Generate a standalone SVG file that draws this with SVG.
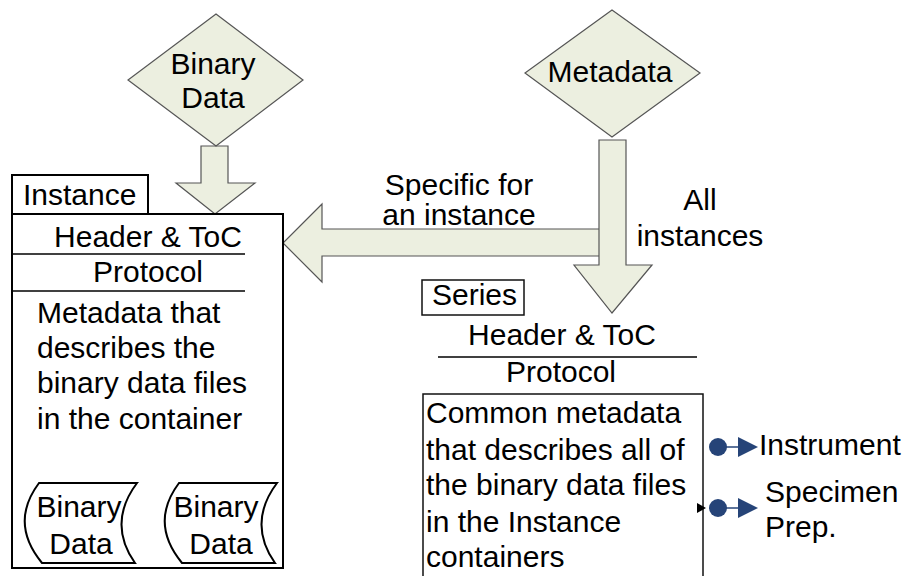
<svg xmlns="http://www.w3.org/2000/svg" width="903" height="576" viewBox="0 0 903 576">
  <style>
    text { font-family: "Liberation Sans", Arial, sans-serif; font-size: 30px; fill: #000; }
    .mid { text-anchor: middle; }
    .shape { fill: #ECEFE0; stroke: #555; stroke-width: 1.2; stroke-linejoin: miter; }
    .box { fill: #fff; stroke: #000; stroke-width: 2; }
    .thin { fill: #fff; stroke: #111; stroke-width: 1.5; }
    .rule { stroke: #000; stroke-width: 1.5; }
    .doc { fill: #fff; stroke: #000; stroke-width: 2; }
    .link { stroke: #264478; stroke-width: 1.5; fill: none; }
    .dot { fill: #264478; }
  </style>
  <defs>
    <path id="stored" d="M39,483 H137 Q107,523 135,563 H42 Q9,523 39,483 Z"/>
  </defs>

  <rect width="903" height="576" fill="#fff"/>

  <!-- block arrows between the sources and the containers -->
  <g id="connectors">
    <polygon class="shape" points="201,146 228,146 228,183 255,183 215,214 176,183 201,183"/>
    <polygon class="shape" points="600,229 322,229 322,204 283,243 322,282 322,256 600,256"/>
    <polygon class="shape" points="599,140 626,140 626,265 652,265 612,313 574,265 599,265"/>
    <text class="mid" x="459" y="195">Specific for</text>
    <text class="mid" x="459" y="225">an instance</text>
    <text class="mid" x="700" y="210">All</text>
    <text class="mid" x="700" y="246">instances</text>
  </g>

  <!-- source: binary data -->
  <g id="node-binary-data">
    <polygon class="shape" points="216,14 303,80 216,146 128,80"/>
    <text class="mid" x="213" y="74">Binary</text>
    <text class="mid" x="213" y="108">Data</text>
  </g>

  <!-- source: metadata -->
  <g id="node-metadata">
    <polygon class="shape" points="612,10 700,73 612,137 525,73"/>
    <text class="mid" x="610" y="82">Metadata</text>
  </g>

  <!-- instance container -->
  <g id="node-instance">
    <rect class="box" x="12" y="214" width="271" height="354"/>
    <rect class="box" x="12" y="175" width="136" height="39"/>
    <text x="23" y="205">Instance</text>
    <text class="mid" x="148" y="247">Header &amp; ToC</text>
    <line class="rule" x1="12" y1="254" x2="245" y2="254"/>
    <text class="mid" x="148" y="282">Protocol</text>
    <line class="rule" x1="12" y1="291" x2="245" y2="291"/>
    <text x="37" y="323">Metadata that</text>
    <text x="37" y="358">describes the</text>
    <text x="37" y="393">binary data files</text>
    <text x="37" y="429">in the container</text>
    <use href="#stored" class="doc"/>
    <use href="#stored" class="doc" transform="translate(140,0)"/>
    <text class="mid" x="79" y="517">Binary</text>
    <text class="mid" x="81" y="554">Data</text>
    <text class="mid" x="216" y="517">Binary</text>
    <text class="mid" x="221" y="554">Data</text>
  </g>

  <!-- series container -->
  <g id="node-series">
    <rect class="thin" x="422" y="280" width="102" height="35"/>
    <text x="432" y="305">Series</text>
    <text class="mid" x="562" y="345">Header &amp; ToC</text>
    <line class="rule" x1="438" y1="357" x2="697" y2="357"/>
    <text class="mid" x="561" y="382">Protocol</text>
    <rect class="thin" x="423" y="394" width="280" height="200"/>
    <text x="426" y="423">Common metadata</text>
    <text x="426" y="460">that describes all of</text>
    <text x="426" y="495">the binary data files</text>
    <text x="426" y="532">in the Instance</text>
    <text x="426" y="567">containers</text>
    <polygon points="697,503 706,508 697,513" fill="#000"/>
  </g>

  <!-- linked items -->
  <g id="node-instrument">
    <line class="link" x1="718" y1="447" x2="740" y2="447"/>
    <circle class="dot" cx="718" cy="447" r="9"/>
    <polygon class="dot" points="738,437 758,447 738,457"/>
    <text x="759" y="455">Instrument</text>
  </g>
  <g id="node-specimen">
    <line class="link" x1="718" y1="508" x2="740" y2="508"/>
    <circle class="dot" cx="718" cy="508" r="9"/>
    <polygon class="dot" points="738,498 758,508 738,518"/>
    <text x="765" y="502">Specimen</text>
    <text x="765" y="537">Prep.</text>
  </g>
</svg>
